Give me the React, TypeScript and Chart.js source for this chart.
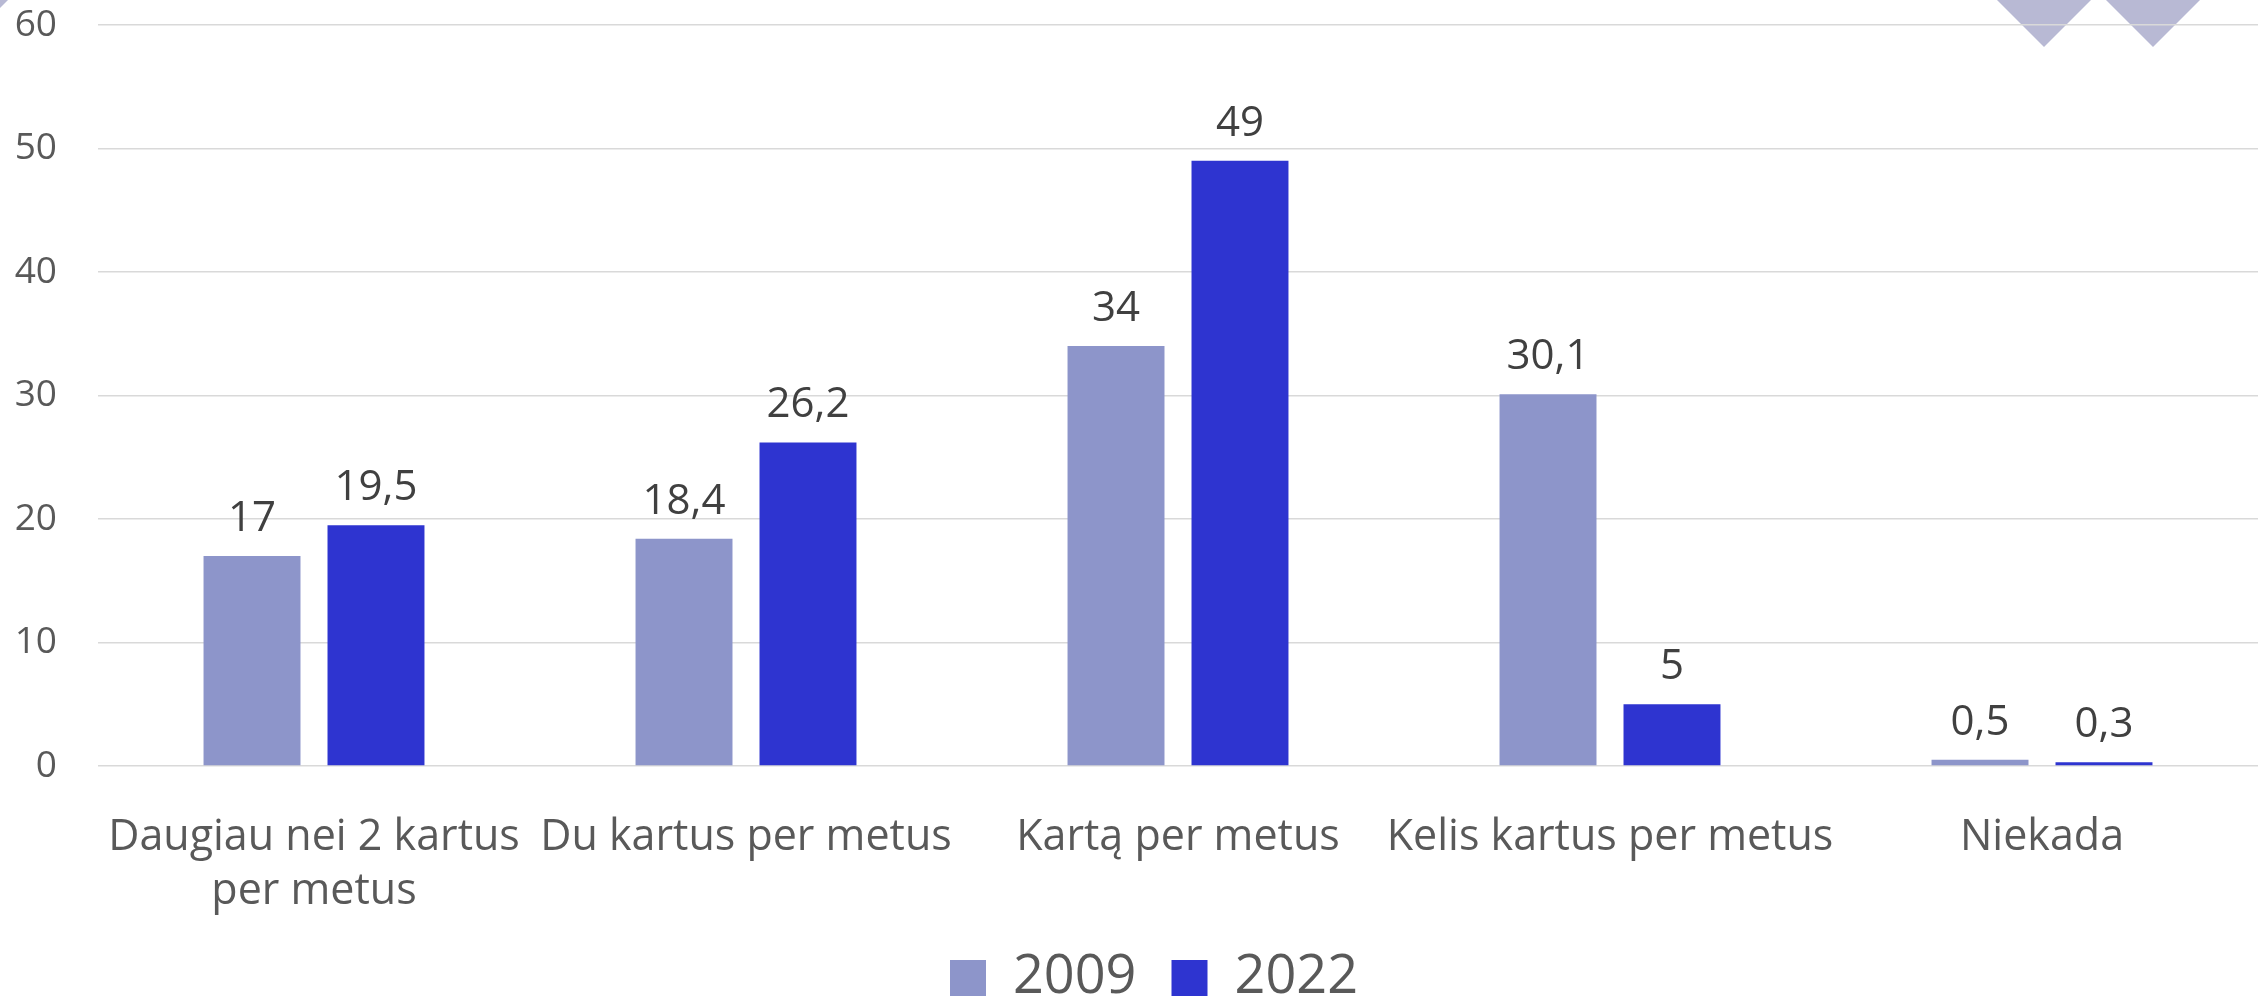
import { useEffect, useRef } from 'react';
import { Chart, registerables } from 'chart.js';

Chart.register(...registerables);

const categories: (string | string[])[] = [
  ['Daugiau nei 2 kartus', 'per metus'],
  'Du kartus per metus',
  'Kartą per metus',
  'Kelis kartus per metus',
  'Niekada',
];
const seriesNames = ['2009', '2022'];
const values2009 = [17, 18.4, 34, 30.1, 0.5];
const values2022 = [19.5, 26.2, 49, 5, 0.3];
const yMin = 0;
const yMax = 60;
const yStep = 10;

const color2009 = '#8D95CA';
const color2022 = '#2E34D0';
const FONT = "'Open Sans', 'Noto Sans', sans-serif";

const fmt = (v: number) => String(v).replace('.', ',');

const decorPlugin = {
  id: 'decor',
  beforeDraw(chart: any) {
    const ctx = chart.ctx;
    ctx.save();
    ctx.fillStyle = '#B8B9D4';
    const tri = (cx: number, hw: number) => {
      ctx.beginPath();
      ctx.moveTo(cx - hw, 0);
      ctx.lineTo(cx + hw, 0);
      ctx.lineTo(cx, hw);
      ctx.closePath();
      ctx.fill();
    };
    tri(2044, 47);
    tri(2153, 47);
    ctx.beginPath();
    ctx.moveTo(0, 0);
    ctx.lineTo(8, 0);
    ctx.lineTo(0, 8);
    ctx.closePath();
    ctx.fill();
    ctx.restore();
  },
};

const legendShiftPlugin = {
  id: 'legendShift',
  afterLayout(chart: any) {
    const lg = chart.legend;
    if (lg) {
      lg.left += 25;
      lg.right += 25;
    }
  },
};

const labelPlugin = {
  id: 'valueLabels',
  afterDatasetsDraw(chart: any) {
    const ctx = chart.ctx;
    ctx.save();
    ctx.font = `42px ${FONT}`;
    ctx.fillStyle = '#404040';
    ctx.textAlign = 'center';
    ctx.textBaseline = 'alphabetic';
    chart.data.datasets.forEach((ds: any, di: number) => {
      const meta = chart.getDatasetMeta(di);
      meta.data.forEach((el: any, i: number) => {
        ctx.fillText(fmt(ds.data[i]), el.x, el.y - 25);
      });
    });
    ctx.restore();
  },
};

export default function App() {
  const ref = useRef<HTMLCanvasElement>(null);
  useEffect(() => {
    document.body.style.margin = '0';
    const chart = new Chart(ref.current!, {
      type: 'bar',
      data: {
        labels: categories,
        datasets: [
          {
            label: seriesNames[0],
            data: values2009,
            backgroundColor: color2009,
            categoryPercentage: 0.574,
            barPercentage: 0.782,
          },
          {
            label: seriesNames[1],
            data: values2022,
            backgroundColor: color2022,
            categoryPercentage: 0.574,
            barPercentage: 0.782,
          },
        ],
      },
      options: {
        animation: false,
        responsive: true,
        maintainAspectRatio: false,
        layout: { padding: { left: 0, right: 9, top: 25, bottom: -12 } },
        scales: {
          x: {
            grid: { display: false },
            border: { display: false },
            ticks: {
              color: '#595959',
              font: { family: FONT, size: 43, lineHeight: 1.256 },
              padding: 36.5,
              maxRotation: 0,
              minRotation: 0,
              autoSkip: false,
            },
            afterFit(scale: any) {
              scale.height = 150;
            },
          },
          y: {
            min: yMin,
            max: yMax,
            grid: { color: '#D9D9D9', lineWidth: 1.5, drawTicks: false },
            border: { display: false },
            ticks: {
              stepSize: yStep,
              color: '#595959',
              font: { family: FONT, size: 37 },
              padding: 41,
            },
            afterFit(scale: any) {
              scale.width = 98;
              scale.paddingTop = 0;
              scale.paddingBottom = 0;
            },
          },
        },
        plugins: {
          legend: {
            position: 'bottom',
            labels: {
              boxWidth: 36,
              boxHeight: 36,
              padding: 35,
              color: '#595959',
              font: { family: FONT, size: 54 },
            },
          },
          tooltip: { enabled: false },
        },
      } as any,
      plugins: [decorPlugin, legendShiftPlugin, labelPlugin],
    });
    return () => chart.destroy();
  }, []);
  return (
    <div style={{ width: 2267, height: 1003, position: 'relative' }}>
      <canvas ref={ref} />
    </div>
  );
}
